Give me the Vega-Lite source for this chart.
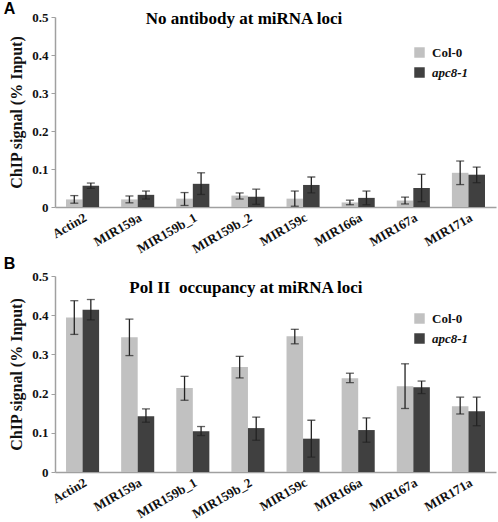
{
  "$schema": "https://vega.github.io/schema/vega-lite/v6.json",
  "background": "white",
  "padding": {"left": 3, "top": 0, "right": 5, "bottom": 0},
  "spacing": 0,
  "datasets": {
    "a": [
      {"locus": "Actin2", "genotype": "Col-0", "value": 0.02, "lo": 0.01, "hi": 0.03},
      {"locus": "Actin2", "genotype": "apc8-1", "value": 0.056, "lo": 0.049, "hi": 0.063},
      {"locus": "MIR159a", "genotype": "Col-0", "value": 0.02, "lo": 0.011, "hi": 0.029},
      {"locus": "MIR159a", "genotype": "apc8-1", "value": 0.032, "lo": 0.021, "hi": 0.042},
      {"locus": "MIR159b_1", "genotype": "Col-0", "value": 0.022, "lo": 0.004, "hi": 0.038},
      {"locus": "MIR159b_1", "genotype": "apc8-1", "value": 0.061, "lo": 0.033, "hi": 0.09},
      {"locus": "MIR159b_2", "genotype": "Col-0", "value": 0.03, "lo": 0.021, "hi": 0.037},
      {"locus": "MIR159b_2", "genotype": "apc8-1", "value": 0.027, "lo": 0.007, "hi": 0.047},
      {"locus": "MIR159c", "genotype": "Col-0", "value": 0.022, "lo": 0.002, "hi": 0.042},
      {"locus": "MIR159c", "genotype": "apc8-1", "value": 0.058, "lo": 0.037, "hi": 0.079},
      {"locus": "MIR166a", "genotype": "Col-0", "value": 0.012, "lo": 0.006, "hi": 0.018},
      {"locus": "MIR166a", "genotype": "apc8-1", "value": 0.024, "lo": 0.006, "hi": 0.042},
      {"locus": "MIR167a", "genotype": "Col-0", "value": 0.017, "lo": 0.008, "hi": 0.026},
      {"locus": "MIR167a", "genotype": "apc8-1", "value": 0.05, "lo": 0.014, "hi": 0.086},
      {"locus": "MIR171a", "genotype": "Col-0", "value": 0.09, "lo": 0.059, "hi": 0.121},
      {"locus": "MIR171a", "genotype": "apc8-1", "value": 0.085, "lo": 0.064, "hi": 0.105}
    ],
    "b": [
      {"locus": "Actin2", "genotype": "Col-0", "value": 0.394, "lo": 0.351, "hi": 0.437},
      {"locus": "Actin2", "genotype": "apc8-1", "value": 0.414, "lo": 0.388, "hi": 0.44},
      {"locus": "MIR159a", "genotype": "Col-0", "value": 0.344, "lo": 0.297, "hi": 0.39},
      {"locus": "MIR159a", "genotype": "apc8-1", "value": 0.142, "lo": 0.127, "hi": 0.161},
      {"locus": "MIR159b_1", "genotype": "Col-0", "value": 0.214, "lo": 0.183, "hi": 0.244},
      {"locus": "MIR159b_1", "genotype": "apc8-1", "value": 0.104, "lo": 0.093, "hi": 0.116},
      {"locus": "MIR159b_2", "genotype": "Col-0", "value": 0.268, "lo": 0.24, "hi": 0.295},
      {"locus": "MIR159b_2", "genotype": "apc8-1", "value": 0.112, "lo": 0.081, "hi": 0.14},
      {"locus": "MIR159c", "genotype": "Col-0", "value": 0.346, "lo": 0.327, "hi": 0.364},
      {"locus": "MIR159c", "genotype": "apc8-1", "value": 0.085, "lo": 0.038, "hi": 0.132},
      {"locus": "MIR166a", "genotype": "Col-0", "value": 0.239, "lo": 0.228, "hi": 0.252},
      {"locus": "MIR166a", "genotype": "apc8-1", "value": 0.107, "lo": 0.076, "hi": 0.138},
      {"locus": "MIR167a", "genotype": "Col-0", "value": 0.219, "lo": 0.162, "hi": 0.276},
      {"locus": "MIR167a", "genotype": "apc8-1", "value": 0.216, "lo": 0.2, "hi": 0.232},
      {"locus": "MIR171a", "genotype": "Col-0", "value": 0.168, "lo": 0.148, "hi": 0.191},
      {"locus": "MIR171a", "genotype": "apc8-1", "value": 0.155, "lo": 0.118, "hi": 0.191}
    ]
  },
  "resolve": {"scale": {"color": "independent", "x": "independent", "y": "independent"}, "legend": {"color": "independent"}},
  "vconcat": [
    {
      "width": 441,
      "height": 190,
      "title": {"text": "A", "anchor": "start", "frame": "bounds", "font": "Liberation Sans", "fontSize": 16, "fontWeight": "bold", "offset": -7, "dx": -5},
      "encoding": {
        "x": {"field": "locus", "type": "nominal", "sort": null,
          "scale": {"paddingInner": 0.4, "paddingOuter": 0.2},
          "axis": {"title": null, "labelAngle": -30, "labelAlign": "right", "labelBaseline": "top", "ticks": false, "labelPadding": 4, "labelFont": "Liberation Serif"}},
        "y": {"field": "value", "type": "quantitative", "scale": {"domain": [0, 0.5], "nice": false},
          "axis": {"title": "ChIP signal (% Input)", "values": [0, 0.1, 0.2, 0.3, 0.4, 0.5], "format": "~g", "labelFont": "Liberation Serif", "titleFont": "Liberation Serif"}}
      },
      "layer": [
        {
          "data": {"name": "a"},
          "mark": {"type": "bar"},
          "encoding": {
            "xOffset": {"field": "genotype", "type": "nominal", "sort": ["Col-0", "apc8-1"], "scale": {"paddingInner": 0, "paddingOuter": 0}},
            "color": {"field": "genotype", "type": "nominal", "sort": ["Col-0", "apc8-1"],
              "scale": {"domain": ["Col-0", "apc8-1"], "range": ["#c1c1c1", "#404040"]},
              "legend": {"title": null, "orient": "none", "legendX": 358, "legendY": 29, "labelFont": "Liberation Serif",
                "encode": {"labels": {"update": {"fontStyle": {"signal": "datum.label === 'apc8-1' ? 'italic' : 'normal'"}}}}}}
          }
        },
        {
          "data": {"name": "a"},
          "mark": {"type": "rule", "color": "#222222", "strokeWidth": 1.3},
          "encoding": {
            "xOffset": {"field": "genotype", "type": "nominal", "sort": ["Col-0", "apc8-1"], "scale": {"paddingInner": 0, "paddingOuter": 0}},
            "y": {"field": "lo", "type": "quantitative"}, "y2": {"field": "hi"}}
        },
        {
          "data": {"name": "a"},
          "mark": {"type": "tick", "color": "#222222", "thickness": 1.3, "size": 8},
          "encoding": {
            "xOffset": {"field": "genotype", "type": "nominal", "sort": ["Col-0", "apc8-1"], "scale": {"paddingInner": 0, "paddingOuter": 0}},
            "y": {"field": "lo", "type": "quantitative"}}
        },
        {
          "data": {"name": "a"},
          "mark": {"type": "tick", "color": "#222222", "thickness": 1.3, "size": 8},
          "encoding": {
            "xOffset": {"field": "genotype", "type": "nominal", "sort": ["Col-0", "apc8-1"], "scale": {"paddingInner": 0, "paddingOuter": 0}},
            "y": {"field": "hi", "type": "quantitative"}}
        },
        {
          "data": {"values": [{"label": "No antibody at miRNA loci", "locus": "MIR159b_2", "value": 0.495}]},
          "mark": {"type": "text", "font": "Liberation Serif", "fontSize": 17, "fontWeight": "bold", "baseline": "middle", "align": "center", "dx": -4},
          "encoding": {"text": {"field": "label"}}
        }
      ]
    },
    {
      "width": 441,
      "height": 196,
      "title": {"text": "B", "anchor": "start", "frame": "bounds", "font": "Liberation Sans", "fontSize": 16, "fontWeight": "bold", "offset": -2, "dx": -5},
      "encoding": {
        "x": {"field": "locus", "type": "nominal", "sort": null,
          "scale": {"paddingInner": 0.4, "paddingOuter": 0.2},
          "axis": {"title": null, "labelAngle": -30, "labelAlign": "right", "labelBaseline": "top", "ticks": false, "labelPadding": 4, "labelFont": "Liberation Serif"}},
        "y": {"field": "value", "type": "quantitative", "scale": {"domain": [0, 0.5], "nice": false},
          "axis": {"title": "ChIP signal (% Input)", "values": [0, 0.1, 0.2, 0.3, 0.4, 0.5], "format": "~g", "labelFont": "Liberation Serif", "titleFont": "Liberation Serif"}}
      },
      "layer": [
        {
          "data": {"name": "b"},
          "mark": {"type": "bar"},
          "encoding": {
            "xOffset": {"field": "genotype", "type": "nominal", "sort": ["Col-0", "apc8-1"], "scale": {"paddingInner": 0, "paddingOuter": 0}},
            "color": {"field": "genotype", "type": "nominal", "sort": ["Col-0", "apc8-1"],
              "scale": {"domain": ["Col-0", "apc8-1"], "range": ["#c1c1c1", "#404040"]},
              "legend": {"title": null, "orient": "none", "legendX": 358, "legendY": 36, "labelFont": "Liberation Serif",
                "encode": {"labels": {"update": {"fontStyle": {"signal": "datum.label === 'apc8-1' ? 'italic' : 'normal'"}}}}}}
          }
        },
        {
          "data": {"name": "b"},
          "mark": {"type": "rule", "color": "#222222", "strokeWidth": 1.3},
          "encoding": {
            "xOffset": {"field": "genotype", "type": "nominal", "sort": ["Col-0", "apc8-1"], "scale": {"paddingInner": 0, "paddingOuter": 0}},
            "y": {"field": "lo", "type": "quantitative"}, "y2": {"field": "hi"}}
        },
        {
          "data": {"name": "b"},
          "mark": {"type": "tick", "color": "#222222", "thickness": 1.3, "size": 8},
          "encoding": {
            "xOffset": {"field": "genotype", "type": "nominal", "sort": ["Col-0", "apc8-1"], "scale": {"paddingInner": 0, "paddingOuter": 0}},
            "y": {"field": "lo", "type": "quantitative"}}
        },
        {
          "data": {"name": "b"},
          "mark": {"type": "tick", "color": "#222222", "thickness": 1.3, "size": 8},
          "encoding": {
            "xOffset": {"field": "genotype", "type": "nominal", "sort": ["Col-0", "apc8-1"], "scale": {"paddingInner": 0, "paddingOuter": 0}},
            "y": {"field": "hi", "type": "quantitative"}}
        },
        {
          "data": {"values": [{"label": "Pol II\u00a0 occupancy at miRNA loci", "locus": "MIR159b_2", "value": 0.47}]},
          "mark": {"type": "text", "font": "Liberation Serif", "fontSize": 17, "fontWeight": "bold", "baseline": "middle", "align": "center", "dx": -2},
          "encoding": {"text": {"field": "label"}}
        }
      ]
    }
  ],
  "config": {
    "view": {"stroke": null},
    "font": "Liberation Serif",
    "axis": {
      "labelFont": "Liberation Serif", "labelFontSize": 13, "labelFontWeight": "bold", "labelColor": "#111111",
      "titleFont": "Liberation Serif", "titleFontSize": 16, "titleFontWeight": "bold", "titleColor": "#111111",
      "domainColor": "#a0a0a0", "tickColor": "#a0a0a0", "tickSize": 4, "grid": false, "domainWidth": 1.5
    },
    "axisY": {"titlePadding": 7, "labelPadding": 3},
    "legend": {"labelFont": "Liberation Serif", "labelFontSize": 13, "labelFontWeight": "bold", "labelColor": "#111111",
      "symbolType": "square", "symbolSize": 110, "symbolStrokeWidth": 0, "rowPadding": 6, "labelOffset": 6}
  }
}
